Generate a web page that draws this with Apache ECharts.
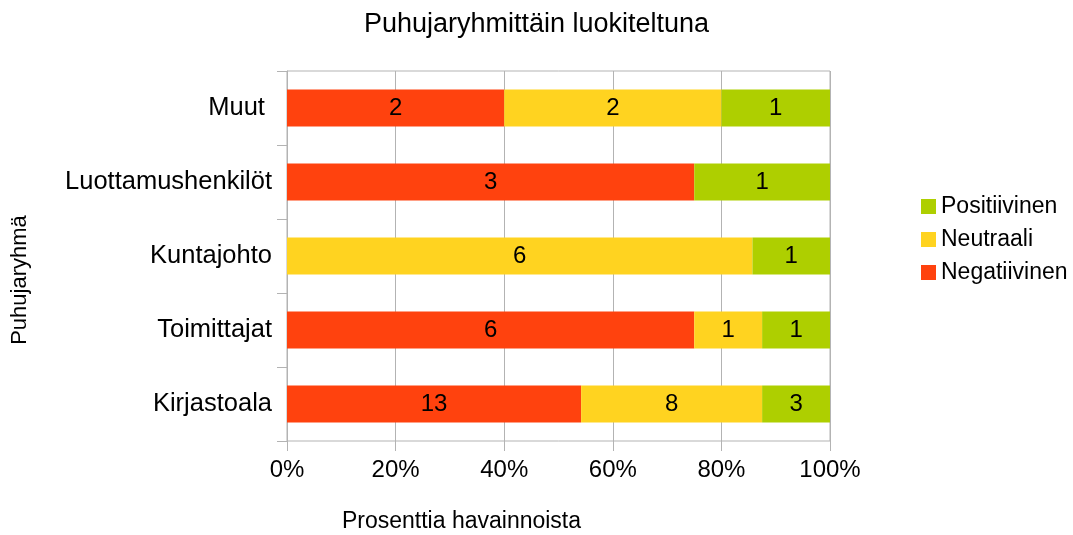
<!DOCTYPE html>
<html>
<head>
<meta charset="utf-8">
<script src="https://cdn.jsdelivr.net/npm/echarts@6/dist/echarts.min.js"></script>
<style>
  html, body { margin: 0; padding: 0; background: #fff; }
  #chart { width: 1073px; height: 535px; }
</style>
</head>
<body>
<div id="chart"></div>
<script>
// puhujaryhmät alhaalta ylös
const categories = ['Kirjastoala', 'Toimittajat', 'Kuntajohto', 'Luottamushenkilöt', 'Muut ']
const negatiivinen = [13, 6, 0, 3, 2]
const neutraali = [8, 1, 6, 0, 2]
const positiivinen = [3, 1, 1, 1, 1]
const xTicks = [0, 20, 40, 60, 80, 100]

const font = 'Liberation Sans, Arial, sans-serif'
const totals = categories.map((c, i) => negatiivinen[i] + neutraali[i] + positiivinen[i])
const pct = arr => arr.map((v, i) => ({ value: v / totals[i] * 100, count: v }))

function makeSeries (name, arr, color) {
  return {
    name: name,
    type: 'bar',
    stack: 'all',
    barWidth: '50%',
    data: pct(arr),
    itemStyle: { color: color },
    label: {
      show: true,
      position: 'inside',
      color: '#000',
      fontSize: 24,
      fontFamily: font,
      formatter: p => (p.data.count ? String(p.data.count) : '')
    },
    animation: false
  }
}

const chart = echarts.init(document.getElementById('chart'))
chart.setOption({
  animation: false,
  textStyle: { fontFamily: font },
  title: {
    text: 'Puhujaryhmittäin luokiteltuna',
    left: 'center',
    top: 6,
    textStyle: { fontSize: 27, fontWeight: 'normal', color: '#000', fontFamily: font }
  },
  grid: {
    left: 287,
    right: 243,
    top: 71,
    bottom: 94,
    outerBoundsMode: 'none',
    show: true,
    borderColor: '#b3b3b3',
    borderWidth: 1
  },
  legend: {
    orient: 'vertical',
    left: 916,
    top: 190,
    itemWidth: 15,
    itemHeight: 15,
    itemGap: 10,
    icon: 'rect',
    data: ['Positiivinen', 'Neutraali', 'Negatiivinen'],
    textStyle: { fontSize: 23, color: '#000', fontFamily: font }
  },
  xAxis: {
    type: 'value',
    min: xTicks[0],
    max: xTicks[xTicks.length - 1],
    interval: xTicks[1] - xTicks[0],
    name: 'Prosenttia havainnoista',
    nameLocation: 'middle',
    nameGap: 69,
    nameTextStyle: { fontSize: 23, color: '#000', fontFamily: font, padding: [0, 0, 0, -194] },
    axisLine: { show: false },
    axisTick: { show: true, length: 10, lineStyle: { color: '#b3b3b3' } },
    axisLabel: { formatter: '{value}%', fontSize: 24, color: '#000', margin: 17, fontFamily: font },
    splitLine: { show: true, lineStyle: { color: '#b3b3b3' } }
  },
  yAxis: {
    type: 'category',
    data: categories,
    name: 'Puhujaryhmä',
    nameLocation: 'middle',
    nameGap: 256,
    nameRotate: 90,
    nameTextStyle: { fontSize: 22, color: '#000', fontFamily: font, padding: [0, 48, 0, 0] },
    axisLine: { show: true, lineStyle: { color: '#b3b3b3' } },
    axisTick: { show: true, length: 10, lineStyle: { color: '#b3b3b3' } },
    axisLabel: { fontSize: 25.5, color: '#000', margin: 15, fontFamily: font },
    splitLine: { show: false }
  },
  series: [
    makeSeries('Negatiivinen', negatiivinen, '#ff420e'),
    makeSeries('Neutraali', neutraali, '#ffd320'),
    makeSeries('Positiivinen', positiivinen, '#aecf00')
  ]
})
</script>
</body>
</html>
